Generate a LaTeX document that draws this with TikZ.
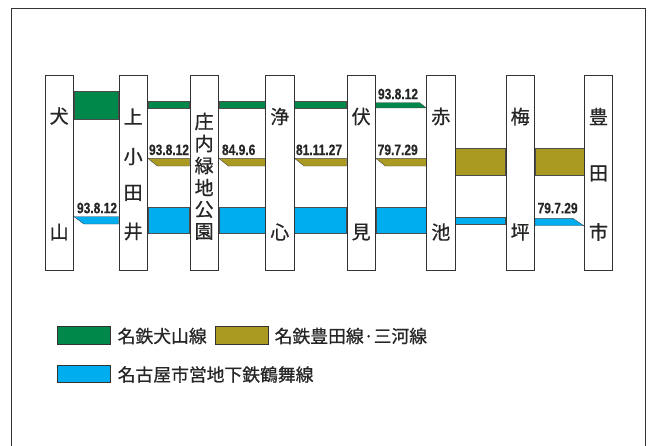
\documentclass[tikz,border=0pt]{standalone}
\usepackage{fontspec}
\newfontfamily\cjk[FakeBold=0.7]{Noto Sans CJK JP}
\newfontfamily\datefont[FakeBold=0.3,FakeStretch=0.8]{Liberation Sans}
\usetikzlibrary{calc}
\definecolor{lgreen}{HTML}{00884A}
\definecolor{lolive}{HTML}{AA9A22}
\definecolor{lblue}{HTML}{00AEEF}
\definecolor{edge}{HTML}{333333}
\tikzset{
  frame/.style={draw=edge, line width=1.2pt},
  station/.style={draw=edge, fill=white, line width=1pt, minimum width=28.3pt, minimum height=195pt, inner sep=0pt},
  stxt/.style={font=\cjk\fontsize{19}{19}\selectfont, inner sep=0pt, text=black!85},
  band/.style={draw=black!70, line width=0.4pt},
  datelbl/.style={font=\datefont\bfseries\fontsize{15}{16}\selectfont, inner sep=0pt, anchor=base west, text=black!85},
  legbox/.style={draw=edge, line width=0.8pt, minimum width=53.4pt, minimum height=17.3pt, inner sep=0pt},
  legtxt/.style={font=\cjk\fontsize{17.8}{18}\selectfont, inner sep=0pt, anchor=west, text=black!85}
}
\begin{document}
\begin{tikzpicture}[x=1pt,y=-1pt]
\useasboundingbox (0,0) rectangle (648,445);
\draw[frame] (11.5,8.5) coordinate (fa) rectangle (645.8,470) coordinate (fb);

% station positions
\path (59.15,172.5) coordinate (pA) (133.15,172.5) coordinate (pB) (204.15,172.5) coordinate (pC)
      (279.85,172.5) coordinate (pD) (361.15,172.5) coordinate (pE) (440.85,172.5) coordinate (pF)
      (520.15,172.5) coordinate (pG) (598.5,172.5) coordinate (pH);
\foreach \n/\p in {inu/pA,kami/pB,sho/pC,jo/pD,fu/pE,aka/pF,ume/pG,toyo/pH}{
  \path (\p) node[station, draw=none, fill=none] (\n) {};
}

% --- green: Meitetsu Inuyama line
\filldraw[band, fill=lgreen] (inu.east|-0,91) rectangle (kami.west|-0,119);
\filldraw[band, fill=lgreen] (kami.east|-0,100.7) rectangle (sho.west|-0,108.3);
\filldraw[band, fill=lgreen] (sho.east|-0,100.7) rectangle (jo.west|-0,108.3);
\filldraw[band, fill=lgreen] (jo.east|-0,100.7) rectangle (fu.west|-0,108.3);
\filldraw[band, fill=lgreen] (fu.east|-0,102.7) -- ($(aka.west|-0,102.7)+(-6.5,0)$) -- (aka.west|-0,107.9) -- (fu.east|-0,107.9) -- cycle;

% --- olive: Meitetsu Toyota / Mikawa line
\foreach \a/\b in {kami/sho,sho/jo,jo/fu,fu/aka}{
  \filldraw[band, fill=lolive] (\a.east|-0,158.3) -- (\b.west|-0,158.3) -- (\b.west|-0,166) -- ($(\a.east|-0,166)+(9.5,0)$) -- cycle;
}
\filldraw[band, fill=lolive] (aka.east|-0,148.3) rectangle (ume.west|-0,175);
\filldraw[band, fill=lolive] (ume.east|-0,148.3) rectangle (toyo.west|-0,175);

% --- blue: Tsurumai line
\filldraw[band, fill=lblue] (inu.east|-0,216.5) -- (kami.west|-0,216.5) -- (kami.west|-0,224) -- ($(inu.east|-0,224)+(10,0)$) -- cycle;
\foreach \a/\b in {kami/sho,sho/jo,jo/fu,fu/aka}{
  \filldraw[band, fill=lblue] (\a.east|-0,206.7) rectangle (\b.west|-0,233.3);
}
\filldraw[band, fill=lblue] (aka.east|-0,216.7) rectangle (ume.west|-0,224);
\filldraw[band, fill=lblue] (ume.east|-0,218.3) -- ($(toyo.west|-0,218.3)+(-11,0)$) -- (toyo.west|-0,225.7) -- (ume.east|-0,225.7) -- cycle;

% date labels
\node[datelbl] (d1) at ($(inu.east|-0,213.2)+(3,0)$) {93.8.12};
\node[datelbl] (d2) at ($(kami.east|-0,155)+(1,0)$) {93.8.12};
\node[datelbl] (d3) at ($(sho.east|-0,155)+(3,0)$) {84.9.6};
\node[datelbl] (d4) at ($(jo.east|-0,155)+(1.3,0)$) {81.11.27};
\node[datelbl] (d5) at ($(fu.east|-0,155)+(1.7,0)$) {79.7.29};
\node[datelbl] (d6) at ($(fu.east|-0,99.2)+(2,0)$) {93.8.12};
\node[datelbl] (d7) at ($(ume.east|-0,213.3)+(2.6,0)$) {79.7.29};

% station boxes on top
\foreach \n/\p in {inu/pA,kami/pB,sho/pC,jo/pD,fu/pE,aka/pF,ume/pG,toyo/pH}{
  \path (\p) node[station] (\n b) {};
}

% station names
\node[stxt] (t11) at (inu|-0,116) {犬};
\node[stxt] (t12) at (inu|-0,232) {山};
\node[stxt] (t21) at (kami|-0,116.5) {上};
\node[stxt] (t22) at (kami|-0,156.5) {小};
\node[stxt] (t23) at (kami|-0,193) {田};
\node[stxt] (t24) at (kami|-0,231.5) {井};
\node[stxt] (t31) at (sho|-0,121.5) {庄};
\node[stxt] (t32) at (sho|-0,143.5) {内};
\node[stxt] (t33) at (sho|-0,165.5) {緑};
\node[stxt] (t34) at (sho|-0,187.5) {地};
\node[stxt] (t35) at (sho|-0,209.5) {公};
\node[stxt] (t36) at (sho|-0,231.5) {園};
\node[stxt] (t41) at (jo|-0,116.5) {浄};
\node[stxt] (t42) at (jo|-0,232) {心};
\node[stxt] (t51) at (fu|-0,116.5) {伏};
\node[stxt] (t52) at (fu|-0,232) {見};
\node[stxt] (t61) at (aka|-0,116.5) {赤};
\node[stxt] (t62) at (aka|-0,232) {池};
\node[stxt] (t71) at (ume|-0,116.5) {梅};
\node[stxt] (t72) at (ume|-0,232) {坪};
\node[stxt] (t81) at (toyo|-0,116.5) {豊};
\node[stxt] (t82) at (toyo|-0,173.5) {田};
\node[stxt] (t83) at (toyo|-0,232) {市};

% legend
\node[legbox, fill=lgreen] (lg1) at (84,335.3) {};
\node[legtxt] (lt1) at (117.5,336) {名鉄犬山線};
\node[legbox, fill=lolive] (lg2) at (241.7,335.3) {};
\node[legtxt] (lt2) at (274.5,336) {名鉄豊田線·三河線};
\node[legbox, fill=lblue] (lg3) at (84,373.8) {};
\node[legtxt] (lt3) at (117.5,374.5) {名古屋市営地下鉄鶴舞線};
\end{tikzpicture}
\end{document}
